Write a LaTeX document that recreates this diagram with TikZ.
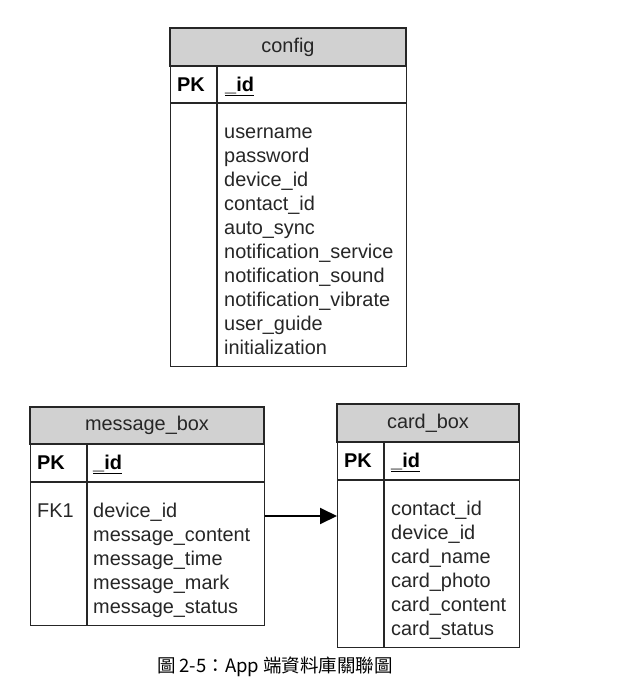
\documentclass[tikz,border=0pt]{standalone}
\usepackage{fontspec}
\setmainfont{Liberation Sans}
\newfontfamily\cjk{Noto Sans CJK TC}
\usetikzlibrary{arrows.meta}
\newcommand{\fnt}{\fontsize{19.9}{24}\selectfont}
\begin{document}
\begin{tikzpicture}[x=1pt,y=-1pt,
  tbl/.style={draw=black!85, line width=1.4pt, anchor=north west, inner sep=0pt},
  hdr/.style={fill=black!18, draw=black!85, line width=1.4pt},
  sep/.style={draw=black!85, line width=1.4pt},
  ttl/.style={font=\fnt, inner sep=0pt, text=black!85},
  fld/.style={font=\fnt, anchor=base west, inner sep=0pt, text=black!85},
  pk/.style={font=\fnt\bfseries, anchor=base west, inner sep=0pt}]
\useasboundingbox (0,0) rectangle (633,691);
% config
\filldraw[hdr] (170,28) rectangle (406,66);
\node[tbl, minimum width=236pt, minimum height=338pt] (config) at (170,28) {};
\draw[sep] (170,103) -- (406,103);
\draw[sep] (217,66) -- (217,366);
\node[ttl] (configt) at (288,47) {config};
\node[pk] (cpk) at (177,91) {PK};
\node[pk] (cid) at (225,91) {\underline{\_id}};
\foreach \t [count=\i from 0] in {username,password,device\_id,contact\_id,auto\_sync,notification\_service,notification\_sound,notification\_vibrate,user\_guide,initialization}
  \node[fld] (cf\i) at (224,138+24*\i) {\t};
% message_box
\filldraw[hdr] (30,407) rectangle (264,444);
\node[tbl, minimum width=234pt, minimum height=218pt] (msg) at (30,407) {};
\draw[sep] (30,482) -- (264,482);
\draw[sep] (87,444) -- (87,625);
\node[ttl] (msgt) at (147,425) {message\_box};
\node[pk] (mpk) at (37,469) {PK};
\node[pk] (mid) at (93,469) {\underline{\_id}};
\node[fld] (mfk) at (37,517) {FK1};
\foreach \t [count=\i from 0] in {device\_id,message\_content,message\_time,message\_mark,message\_status}
  \node[fld] (mf\i) at (93,517+24*\i) {\t};
% card_box
\filldraw[hdr] (337,404) rectangle (519,442);
\node[tbl, minimum width=182pt, minimum height=243pt] (card) at (337,404) {};
\draw[sep] (337,480) -- (519,480);
\draw[sep] (384,442) -- (384,647);
\node[ttl] (cardt) at (428,423) {card\_box};
\node[pk] (kpk) at (344,467) {PK};
\node[pk] (kid) at (391,467) {\underline{\_id}};
\foreach \t [count=\i from 0] in {contact\_id,device\_id,card\_name,card\_photo,card\_content,card\_status}
  \node[fld] (kf\i) at (391,515+24*\i) {\t};
% connector
\coordinate (ay) at (0,516);
\draw[line width=2pt, -{Triangle[length=17pt,width=16pt]}] (msg.east |- ay) -- (card.west |- ay);
% caption
\node[font=\cjk\fontsize{18.5}{20}\selectfont, inner sep=0pt] (cap) at (275,667) {圖 2-5：App 端資料庫關聯圖};
\end{tikzpicture}
\end{document}
